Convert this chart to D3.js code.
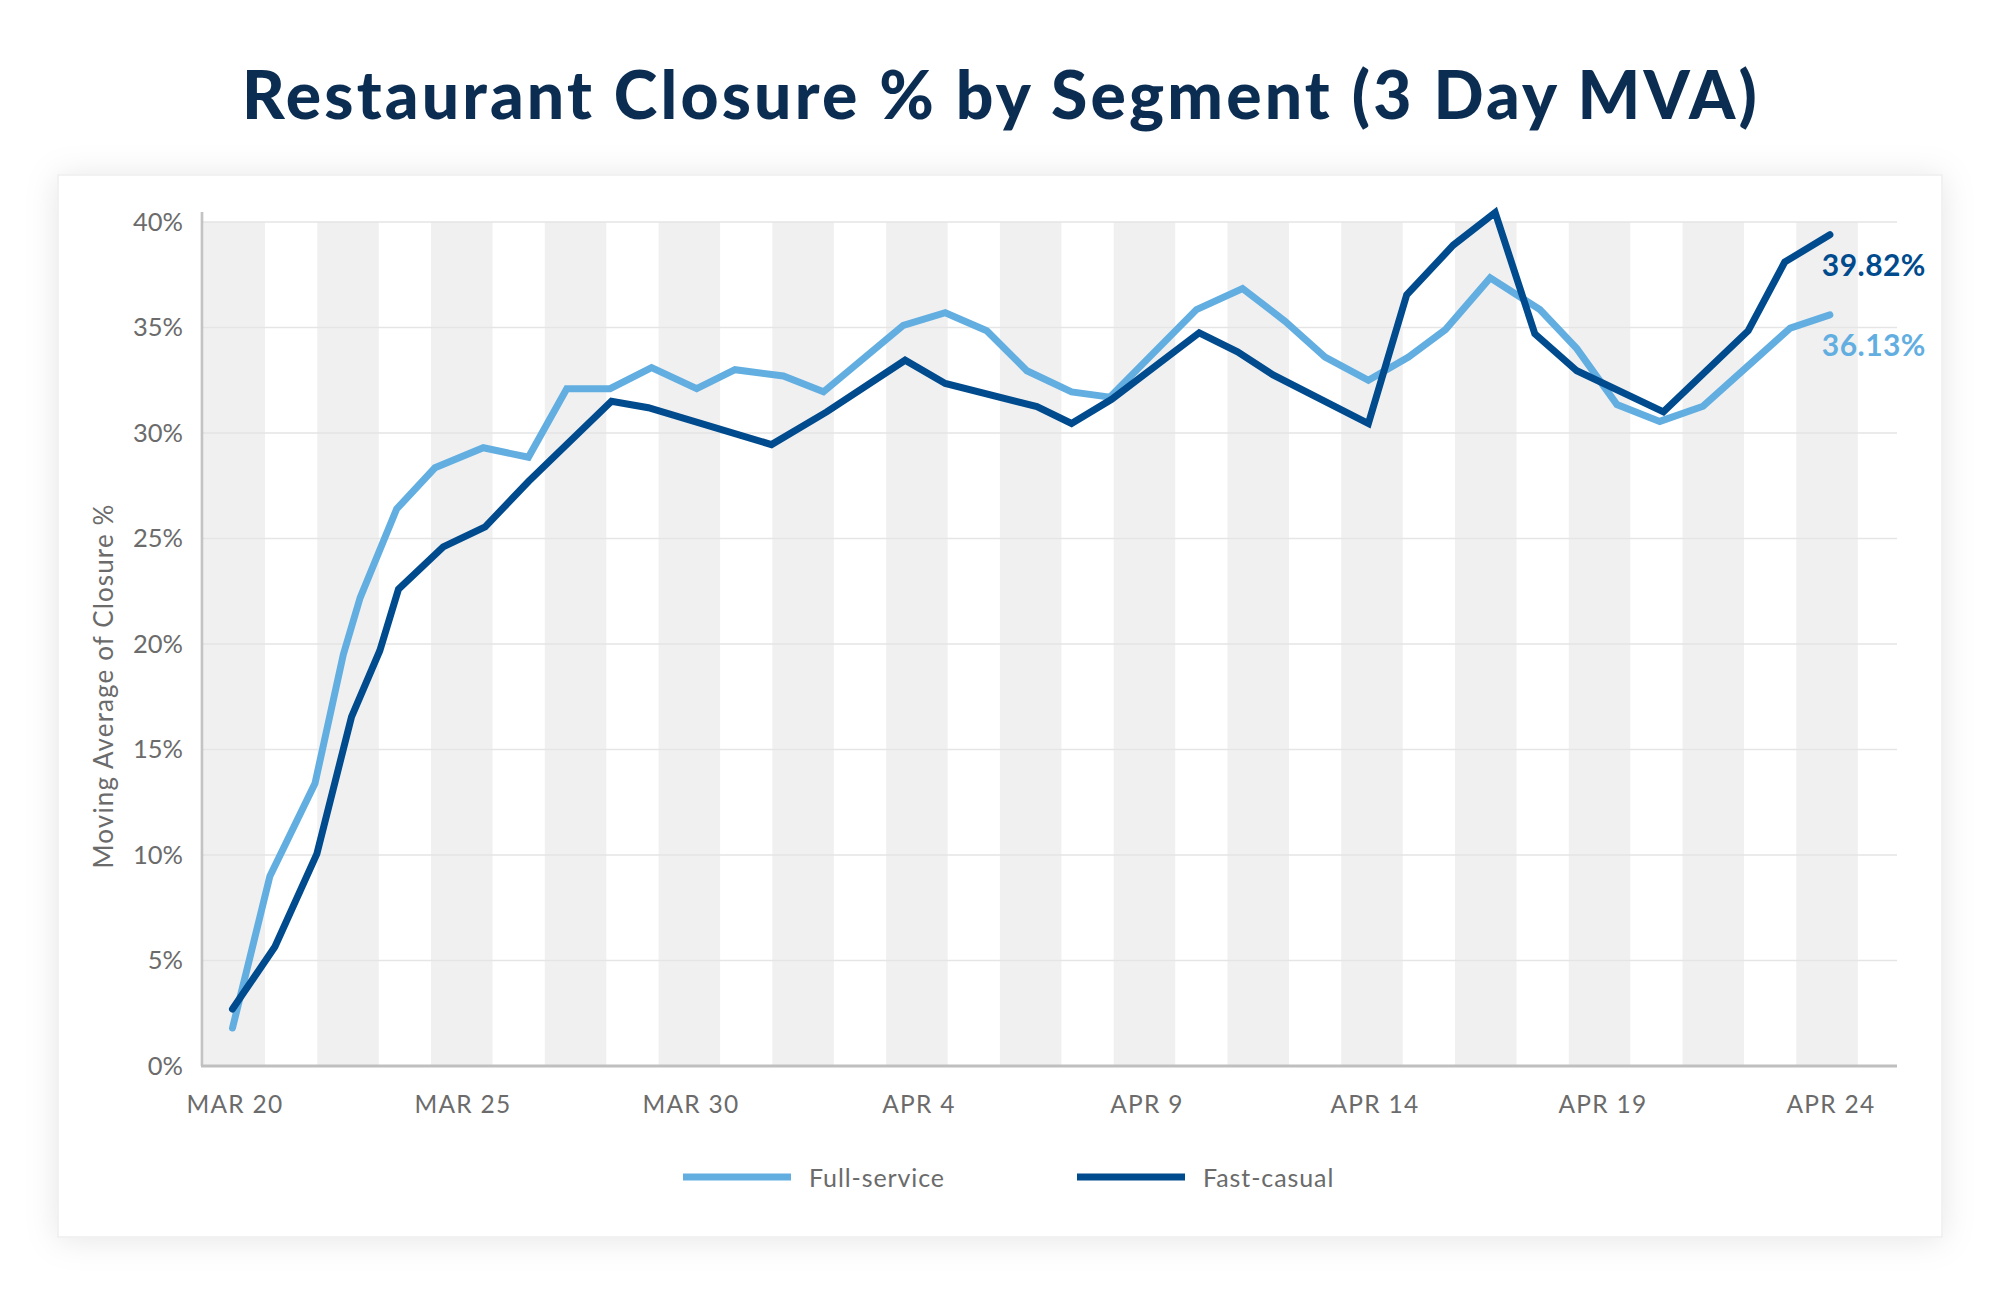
<!DOCTYPE html>
<html>
<head>
<meta charset="utf-8">
<script src="https://cdn.jsdelivr.net/npm/d3@7"></script>
<style>
  html, body { margin: 0; padding: 0; background: #ffffff; }
  svg { display: block; }
</style>
</head>
<body>
<svg id="chart" width="2000" height="1289"></svg>
<script>
// ---------------- DATA ----------------
const chartTitle = "Restaurant Closure % by Segment (3 Day MVA)";
const yAxisTitle = "Moving Average of Closure %";
const seriesNames = ["Full-service", "Fast-casual"];
const seriesColors = ["#62AEE1", "#004B8D"];
const endLabels = ["36.13%", "39.82%"];

// x values are day offsets from MAR 20 (fractional where the line breaks between days)
const fullServiceDays = [0, 0.4, 0.82, 1.81, 2.43, 2.8, 3.6, 4.44, 5.5, 6.49, 7.33, 8.28, 9.19, 10.18, 11.02, 12.08, 12.96, 14.71, 15.63, 16.54, 17.42, 18.4, 19.24, 21.14, 22.15, 23.08, 23.96, 24.91, 25.79, 26.6, 27.58, 28.67, 29.48, 30.36, 31.3, 32.25, 34.16, 35.03];
const fullServiceValues = [1.8, 5.3, 9.0, 13.4, 19.5, 22.2, 26.4, 28.35, 29.3, 28.85, 32.1, 32.1, 33.1, 32.1, 33.0, 32.7, 31.95, 35.1, 35.7, 34.85, 32.95, 31.95, 31.7, 35.85, 36.85, 35.3, 33.6, 32.5, 33.6, 34.9, 37.35, 35.85, 34.0, 31.35, 30.55, 31.27, 34.97, 35.6];

const fastCasualDays = [0, 0.93, 1.85, 2.61, 3.23, 3.64, 4.62, 5.54, 6.49, 8.31, 9.12, 11.82, 13.03, 14.75, 15.63, 17.64, 18.4, 19.28, 21.2, 22.04, 22.82, 24.91, 25.75, 26.77, 27.69, 28.56, 29.48, 31.38, 33.24, 34.04, 35.03];
const fastCasualValues = [2.7, 5.65, 10.05, 16.55, 19.68, 22.6, 24.6, 25.55, 27.7, 31.5, 31.2, 29.45, 31.0, 33.45, 32.35, 31.25, 30.45, 31.6, 34.75, 33.85, 32.75, 30.45, 36.55, 38.9, 40.45, 34.7, 32.95, 31.0, 34.85, 38.1, 39.4];

const xTickDays = [0, 5, 10, 15, 20, 25, 30, 35];
const xTickLabels = ["MAR 20", "MAR 25", "MAR 30", "APR 4", "APR 9", "APR 14", "APR 19", "APR 24"];
const yTickValues = [0, 5, 10, 15, 20, 25, 30, 35, 40];

// ---------------- LAYOUT ----------------
const W = 2000, H = 1289;
const card = { x: 58, y: 175, w: 1884, h: 1062 };
const plot = { left: 202, right: 1897, top: 222, bottom: 1066 };
const stripe = { startDay: -0.636, periodDays: 2.495, widthDays: 1.349 };

const svg = d3.select("#chart");
const defs = svg.append("defs");
const filt = defs.append("filter").attr("id", "shadow")
  .attr("x", "-10%").attr("y", "-10%").attr("width", "120%").attr("height", "120%");
filt.append("feDropShadow").attr("dx", 0).attr("dy", 2).attr("stdDeviation", 16)
  .attr("flood-color", "#000").attr("flood-opacity", 0.10);

svg.append("rect").attr("width", W).attr("height", H).attr("fill", "#ffffff");

function fitWidth(sel, target) {
  const node = sel.node();
  const len = node.getComputedTextLength();
  const n = node.textContent.length;
  if (n > 1) sel.attr("letter-spacing", ((target - len) / n).toFixed(3));
}

// Title
const titleNode = svg.append("text")
  .attr("x", 1001).attr("y", 119)
  .attr("text-anchor", "middle")
  .attr("font-family", "Lato, 'Open Sans', sans-serif")
  .attr("font-weight", 900)
  .attr("font-size", 66)
  .attr("fill", "#0C2D52")
  .text(chartTitle);
fitWidth(titleNode, 1518);

// Card
svg.append("rect")
  .attr("x", card.x).attr("y", card.y).attr("width", card.w).attr("height", card.h)
  .attr("fill", "#ffffff").attr("stroke", "#eeeeee").attr("stroke-width", 1.5)
  .attr("filter", "url(#shadow)");

// Scales
const x = d3.scaleLinear().domain([0, 35]).range([232.5, 1828.5]);
const xEnd = x.invert(plot.right);
const y = d3.scaleLinear().domain([0, 40]).range([plot.bottom, plot.top]);

// Stripes
const stripeIdx = d3.range(Math.ceil((xEnd - stripe.startDay) / stripe.periodDays));
svg.append("g").selectAll("rect").data(stripeIdx).join("rect")
  .attr("x", i => Math.max(plot.left, x(stripe.startDay + i * stripe.periodDays)))
  .attr("width", i => {
    const a = Math.max(plot.left, x(stripe.startDay + i * stripe.periodDays));
    const b = Math.min(plot.right, x(stripe.startDay + i * stripe.periodDays + stripe.widthDays));
    return Math.max(0, b - a);
  })
  .attr("y", y(40)).attr("height", y(0) - y(40))
  .attr("fill", "#f0f0f0");

// Gridlines
svg.append("g").selectAll("line").data(yTickValues.filter(v => v > 0)).join("line")
  .attr("x1", plot.left).attr("x2", plot.right)
  .attr("y1", d => y(d)).attr("y2", d => y(d))
  .attr("stroke", "#e5e5e5").attr("stroke-width", 1.6);

// Y axis
const yAxis = d3.axisLeft(y).tickValues(yTickValues).tickFormat(d => d + "%").tickSize(0).tickPadding(19);
const gy = svg.append("g").attr("transform", `translate(${plot.left},0)`).call(yAxis);
gy.select(".domain").remove();
gy.selectAll("text")
  .attr("font-family", "Lato, sans-serif").attr("font-size", 25.5)
  .attr("fill", "#6b6b6b");
svg.append("line")
  .attr("x1", plot.left).attr("x2", plot.left)
  .attr("y1", plot.top - 10).attr("y2", plot.bottom)
  .attr("stroke", "#c3c3c3").attr("stroke-width", 2.7);

// X axis
const xAxis = d3.axisBottom(x).tickValues(xTickDays)
  .tickFormat((d, i) => xTickLabels[i]).tickSize(0).tickPadding(30);
const gx = svg.append("g").attr("transform", `translate(2,${plot.bottom})`).call(xAxis);
gx.select(".domain").remove();
gx.selectAll("text")
  .attr("font-family", "Lato, sans-serif").attr("font-size", 24.5)
  .attr("letter-spacing", 1.3)
  .attr("fill", "#6b6b6b");
svg.append("line")
  .attr("x1", plot.left - 1).attr("x2", plot.right)
  .attr("y1", plot.bottom).attr("y2", plot.bottom)
  .attr("stroke", "#bfbfbf").attr("stroke-width", 3);

// Y title
const yt = svg.append("text")
  .attr("transform", `translate(113,686) rotate(-90)`)
  .attr("text-anchor", "middle")
  .attr("font-family", "Lato, sans-serif").attr("font-size", 26)
  .attr("fill", "#6b6b6b")
  .text(yAxisTitle);
fitWidth(yt, 365);

// Lines
const series = [
  { name: seriesNames[0], color: seriesColors[0], days: fullServiceDays, values: fullServiceValues, label: endLabels[0] },
  { name: seriesNames[1], color: seriesColors[1], days: fastCasualDays, values: fastCasualValues, label: endLabels[1] }
];
const line = d3.line().x(d => x(d[0])).y(d => y(d[1]));
series.forEach(s => {
  const pts = s.days.map((d, i) => [d, s.values[i]]);
  svg.append("path").datum(pts)
    .attr("d", line)
    .attr("fill", "none")
    .attr("stroke", s.color)
    .attr("stroke-width", 7)
    .attr("stroke-linejoin", "miter")
    .attr("stroke-linecap", "round");
});

// End labels
series.forEach(s => {
  const n = s.days.length - 1;
  const t = svg.append("text")
    .attr("x", x(s.days[n]) - 8)
    .attr("y", y(s.values[n]) + 41)
    .attr("font-family", "Lato, sans-serif").attr("font-weight", 700)
    .attr("font-size", 30)
    .attr("fill", s.color)
    .text(s.label);
  fitWidth(t, 104);
});

// Legend
const legend = svg.append("g").attr("transform", "translate(683,1177)");
const li = legend.selectAll("g").data(series).join("g")
  .attr("transform", (d, i) => `translate(${i * 394},0)`);
li.append("line").attr("x1", 0).attr("x2", 108).attr("y1", 0).attr("y2", 0)
  .attr("stroke", d => d.color).attr("stroke-width", 7);
li.append("text").attr("x", 126).attr("y", 10)
  .attr("font-family", "Lato, sans-serif").attr("font-size", 25)
  .attr("letter-spacing", 0.9)
  .attr("fill", "#6b6b6b")
  .text(d => d.name);
</script>
</body>
</html>
